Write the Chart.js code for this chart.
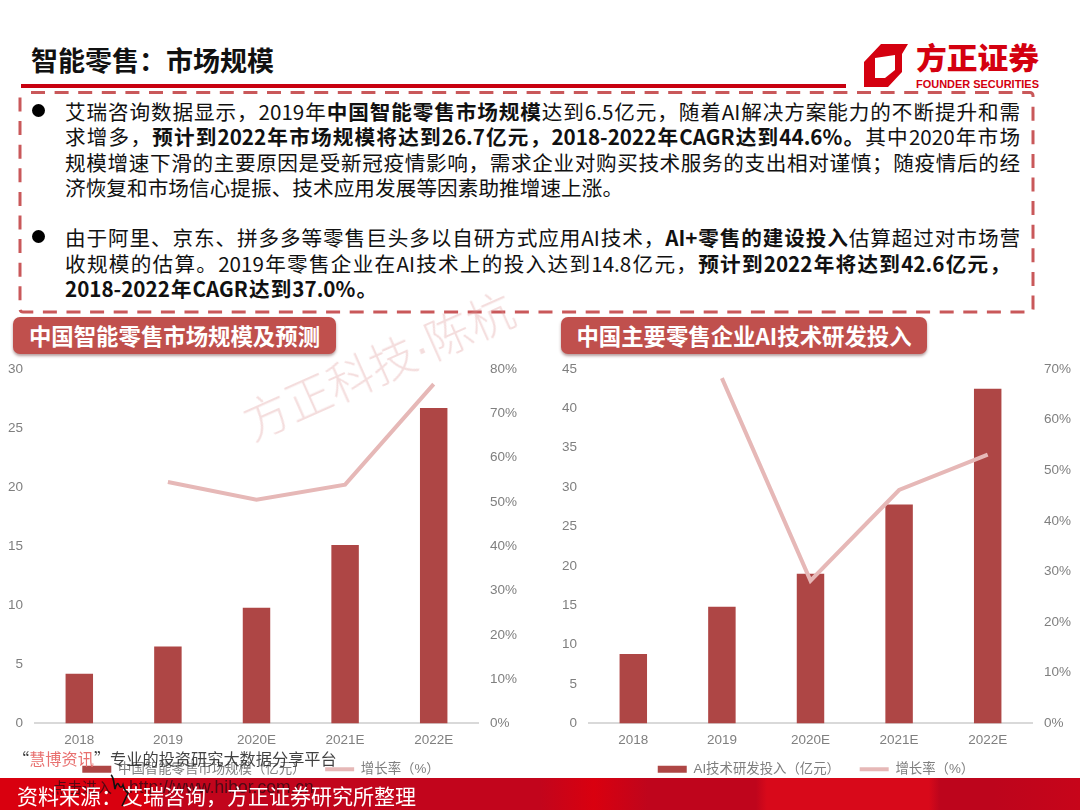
<!DOCTYPE html>
<html lang="zh-CN">
<head>
<meta charset="utf-8">
<title>智能零售：市场规模</title>
<script src="https://cdn.jsdelivr.net/npm/chart.js@4/dist/chart.umd.js"></script>
<style>
  html, body { margin: 0; padding: 0; background: #fff; }
  body { width: 1080px; height: 810px; position: relative; overflow: hidden; font-family: "Noto Sans CJK SC", "Liberation Sans", sans-serif; }
  .abs { position: absolute; }
  .title { left: 31px; top: 41px; font-size: 27px; line-height: 38px; font-weight: 700; color: #111; }
  .rule { left: 21px; top: 84px; width: 825px; height: 4px; background: #c8000f; }
  .line { position: absolute; left: 65px; width: 955px; height: 26px; font-size: 20.6px; line-height: 26px; color: #111; white-space: nowrap; }
  .line.full { text-align: justify; text-align-last: justify; }
  .dot { position: absolute; left: 32px; width: 13px; height: 13px; border-radius: 50%; background: #000; }
  .pill { position: absolute; top: 317px; height: 37px; line-height: 36px; background: #c0504d; border-radius: 7px; color: #fff; font-size: 22.4px; font-weight: 700; text-align: center; white-space: nowrap; box-shadow: 0 2px 3px rgba(90,40,40,.45); }
  canvas { position: absolute; }
  .mark { left: 232px; top: 336px; width: 300px; font-size: 46px; font-weight: 300; line-height: 50px; white-space: nowrap; color: rgba(222,150,150,.32); transform: rotate(-24deg); }
  .mark span { font-family: "Liberation Sans"; }
  .footer { left: 0; top: 778px; width: 1080px; height: 32px; background: linear-gradient(90deg, #d9000f 0%, #d9000f 14%, #c2051c 15%, #c2051c 50%, #d9000f 55%, #bf051c 60%, #bf051c 70%, #d8091a 71%, #d8091a 86%, #bd051c 87%, #bd051c 92%, #c7051a 100%); }
  .source { left: 17px; top: 778px; font-size: 21px; line-height: 34px; color: #fff; white-space: nowrap; }
  .hibor1 { left: 13px; top: 747px; font-size: 16.2px; line-height: 22px; white-space: nowrap; color: rgba(30,30,30,.85); }
  .hibor1 em { font-style: normal; color: #e8706f; }
  .hibor2 { left: 52px; top: 776px; font-size: 15px; line-height: 22px; white-space: nowrap; color: rgba(50,10,20,.8); }
  .hibor2 span { position: absolute; left: 77px; top: 0; font-family: "Liberation Sans", sans-serif; font-size: 17.5px; }
</style>
</head>
<body>
<div class="abs title">智能零售：市场规模</div>
<div class="abs rule"></div>

<svg class="abs" style="left:0;top:0" width="1080" height="100">
  <path fill="#d4000f" fill-rule="evenodd" d="M864 62L881 44H908L902 54V72L888 87H864ZM875 58V78H885L895 70V55Z"/>
  <text x="916" y="69" font-size="30" font-weight="900" fill="#d4000f" textLength="123" lengthAdjust="spacingAndGlyphs">方正证券</text>
  <text x="916" y="88" font-size="11" font-weight="700" fill="#d4000f" font-family="Liberation Sans" textLength="123" lengthAdjust="spacingAndGlyphs">FOUNDER SECURITIES</text>
</svg>

<svg class="abs" style="left:0;top:85px" width="1080" height="235">
  <rect x="20" y="7.5" width="1013" height="219.5" rx="3" fill="none" stroke="#c9585a" stroke-width="3" stroke-dasharray="14 9.6" stroke-dashoffset="-8"/>
</svg>

<div class="dot" style="top:104px"></div>
<div class="dot" style="top:230px"></div>
<div class="line full" style="top:98px">艾瑞咨询数据显示，2019年<b>中国智能零售市场规模</b>达到6.5亿元，随着AI解决方案能力的不断提升和需</div>
<div class="line full" style="top:123px">求增多，<b>预计到2022年市场规模将达到26.7亿元，2018-2022年CAGR达到44.6%。</b>其中2020年市场</div>
<div class="line full" style="top:149px">规模增速下滑的主要原因是受新冠疫情影响，需求企业对购买技术服务的支出相对谨慎；随疫情后的经</div>
<div class="line full" style="top:174px;width:558px">济恢复和市场信心提振、技术应用发展等因素助推增速上涨。</div>
<div class="line full" style="top:224px">由于阿里、京东、拼多多等零售巨头多以自研方式应用AI技术，<b>AI+零售的建设投入</b>估算超过对市场营</div>
<div class="line full" style="top:250px;width:945px">收规模的估算。2019年零售企业在AI技术上的投入达到14.8亿元，<b>预计到2022年将达到42.6亿元，</b></div>
<div class="line full" style="top:275px;width:312px"><b>2018-2022年CAGR达到37.0%。</b></div>

<div class="pill" style="left:13px;width:323px">中国智能零售市场规模及预测</div>
<div class="pill" style="left:561px;width:366px">中国主要零售企业AI技术研发投入</div>

<canvas id="leftChart" width="522" height="437" style="left:0;top:351px;width:522px;height:437px"></canvas>
<canvas id="rightChart" width="528" height="437" style="left:552px;top:351px;width:528px;height:437px"></canvas>

<div class="abs mark">方正科技<span>·</span>陈杭</div>
<div class="abs hibor1">“<em>慧博资讯</em>”专业的投资研究大数据分享平台</div>
<div class="abs footer"></div>
<div class="abs hibor2">点击进入<span>http://www.hibor.com.cn</span></div>
<div class="abs source">资料来源：艾瑞咨询，方正证券研究所整理</div>
<svg class="abs" style="left:105px;top:772px" width="30" height="36">
  <path d="M6 3c3 2 3 10 4 14 1-5 3-7 4-4 1 3 3 3 4 0 1 4 2 6 5 8l-6 13" fill="none" stroke="#111" stroke-width="1.6"/>
</svg>

<script>
// categorias y valores
const categories = ['2018', '2019', '2020E', '2021E', '2022E'];
const marketSize = [4.2, 6.5, 9.8, 15.1, 26.7];
const marketGrowth = [null, 54.5, 50.5, 53.9, 76.6];
const rdInvest = [8.8, 14.8, 19.0, 27.8, 42.5];
const rdGrowth = [null, 68.2, 28.2, 46.1, 53.1];

const barColor = '#ae4645';
const lineColor = '#e6b8b7';
const tickColor = '#7f7f7f';
const fontFamily = '"Liberation Sans", "Noto Sans CJK SC", sans-serif';

function makeChart(id, barLabel, bars, growth, leftMax, leftStep, rightMax, leftWidth, rightWidth) {
  new Chart(document.getElementById(id), {
    data: {
      labels: categories,
      datasets: [
        {
          type: 'line',
          label: '增长率（%）',
          data: growth,
          yAxisID: 'y2',
          borderColor: lineColor,
          borderWidth: 4,
          pointRadius: 0,
          tension: 0,
          order: 0
        },
        {
          type: 'bar',
          label: barLabel,
          data: bars,
          yAxisID: 'y1',
          backgroundColor: barColor,
          barPercentage: 0.31,
          categoryPercentage: 1,
          order: 1
        }
      ]
    },
    options: {
      responsive: false,
      animation: false,
      layout: { padding: { top: 18, bottom: 2 } },
      plugins: {
        tooltip: { enabled: false },
        legend: {
          position: 'bottom',
          labels: {
            usePointStyle: true,
            pointStyleWidth: 29,
            boxHeight: 7,
            padding: 13,
            color: tickColor,
            font: { family: fontFamily, size: 13.4 },
            // primero la barra, luego la linea; el espacio abre el hueco entre ambas
            generateLabels: () => [
              { text: barLabel + '\u3000', fillStyle: barColor, strokeStyle: barColor, lineWidth: 0, pointStyle: 'rect', datasetIndex: 1, fontColor: tickColor },
              { text: '增长率（%）', fillStyle: lineColor, strokeStyle: lineColor, lineWidth: 4, pointStyle: 'line', datasetIndex: 0, fontColor: tickColor }
            ]
          }
        }
      },
      scales: {
        x: {
          grid: { display: false },
          border: { color: '#d9d9d9', width: 2 },
          ticks: { color: tickColor, font: { family: fontFamily, size: 13.5 }, padding: 1, maxRotation: 0 }
        },
        y1: {
          position: 'left',
          min: 0,
          max: leftMax,
          grid: { display: false },
          border: { display: false },
          afterFit: (s) => { s.width = leftWidth; },
          ticks: { stepSize: leftStep, color: tickColor, font: { family: fontFamily, size: 13.5 }, padding: 4 }
        },
        y2: {
          position: 'right',
          min: 0,
          max: rightMax,
          grid: { display: false },
          border: { display: false },
          afterFit: (s) => { s.width = rightWidth; },
          ticks: { stepSize: 10, color: tickColor, font: { family: fontFamily, size: 13.5 }, padding: 4, callback: (v) => v + '%' }
        }
      }
    }
  });
}

makeChart('leftChart', '中国智能零售市场规模（亿元）', marketSize, marketGrowth, 30, 5, 80, 35, 44);
makeChart('rightChart', 'AI技术研发投入（亿元）', rdInvest, rdGrowth, 45, 5, 70, 37, 48);
</script>
</body>
</html>
